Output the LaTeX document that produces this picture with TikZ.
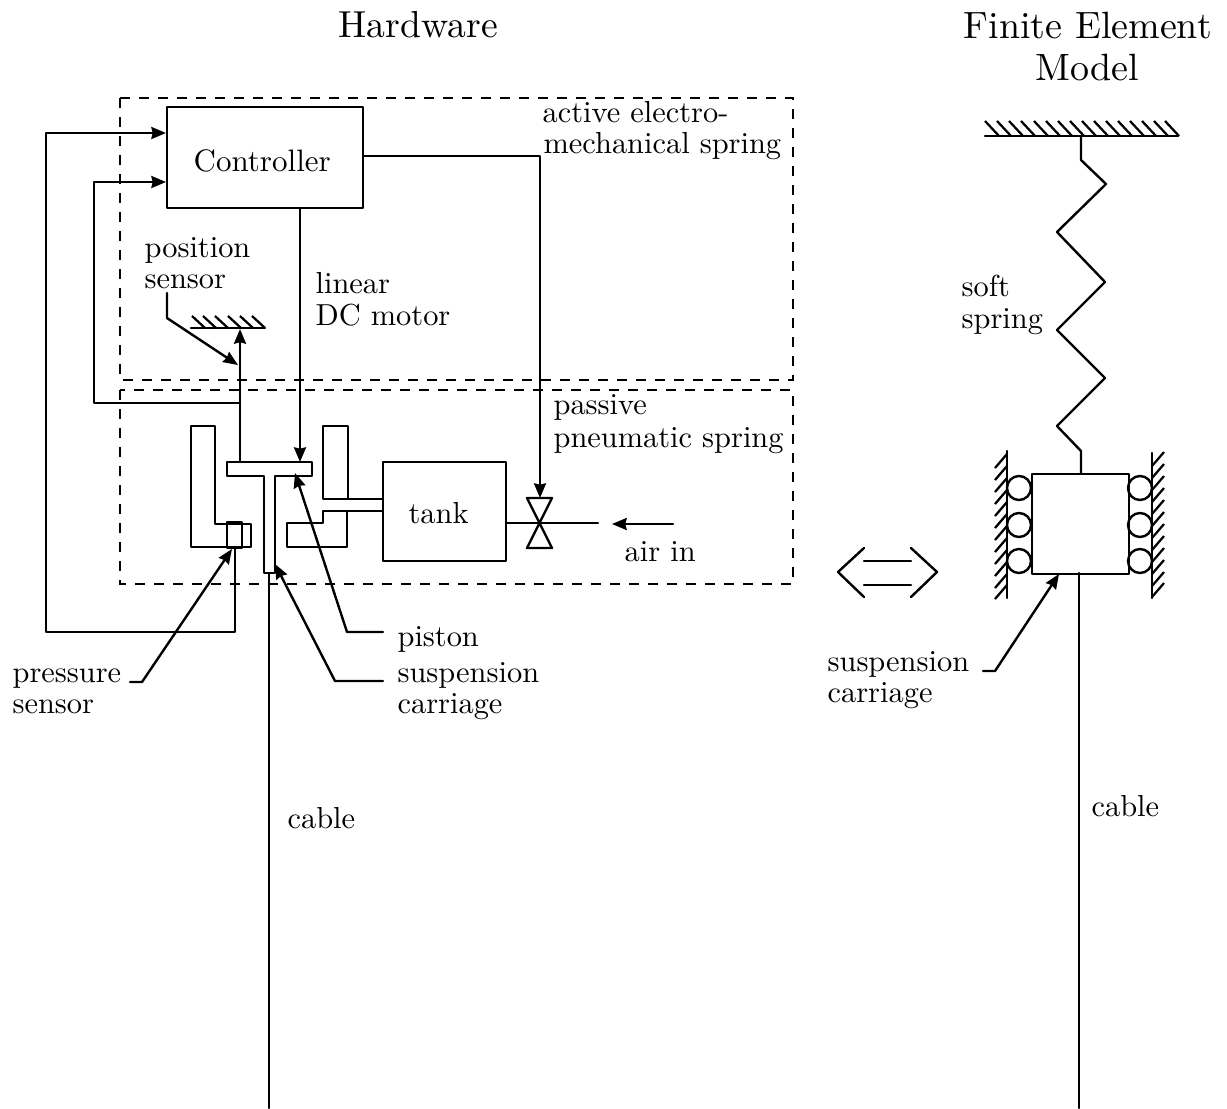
\documentclass[tikz,border=0pt]{standalone}
\usetikzlibrary{arrows.meta}
\tikzset{
  px/.style={x=0.75pt,y=-0.75pt},
  ln/.style={line width=1.8pt,line join=round,line cap=round},
  sig/.style={ln,-{Stealth[length=11pt,width=9pt,inset=1pt]}},
  dashbox/.style={line width=1.6pt,dash pattern=on 7.5pt off 6.75pt},
  hatch/.style={line width=1.7pt},
  lbl/.style={anchor=base west,inner sep=0pt,scale=2.28},
  title/.style={anchor=base west,inner sep=0pt,scale=2.85},
  solidbox/.style={draw,ln,inner sep=0pt,anchor=north west},
  ball/.style={draw,ln,circle,inner sep=0pt,minimum size=18pt},
}
\begin{document}
\begin{tikzpicture}[px]
\useasboundingbox (0,0) rectangle (1227,1108);
% titles
\node[title,scale=0.99] (tHard) at (338,37) {Hardware};
\node[title] (tFin) at (963,38) {Finite Element};
\node[title] (tMod) at (1035,80) {Model};
% dashed regions
\draw[dashbox] (120,98) rectangle (793,380);
\draw[dashbox] (120,390) rectangle (793,584);
% boxes
\node[solidbox,minimum width=147pt,minimum height=75.75pt] (ctrl) at (166,106) {};
\node[lbl,scale=1.02] (ctrlT) at (193,171) {Controller};
\node[solidbox,minimum width=92.25pt,minimum height=74.25pt] (tank) at (382,461) {};
\node[lbl] (tankT) at (408,523) {tank};
% cylinder walls
\draw[ln] (215,426) -- (191,426) -- (191,547) -- (251,547) -- (251,524) -- (215,524) -- cycle;
\node[solidbox,minimum width=11.25pt,minimum height=19.5pt] (psens) at (226,521) {};
\draw[ln] (348,499) -- (348,426) -- (323,426) -- (323,499) -- (382,499);
\draw[ln] (382,511) -- (323,511) -- (323,523) -- (287,523) -- (287,547) -- (347,547) -- (347,511);
% piston
\draw[ln] (227,462) -- (312,462) -- (312,476) -- (275,476) -- (275,573) -- (264,573) -- (264,476) -- (227,476) -- cycle;
\coordinate (cableL) at (269,573);
\coordinate (cableLend) at (269,1108);
\draw[ln] (cableL) -- (cableLend);
% position-sensor ground
\coordinate (gndL) at (191,328);
\coordinate (gndR) at (265,328);
\draw[ln] (gndL) -- (gndR);
\foreach \x in {192,203,215,228,240,252} \draw[hatch] (\x,316) -- (\x+13,328);
% signals
\coordinate (pTip) at (300,462);
\draw[sig] (pTip |- ctrl.south) -- (pTip);
\coordinate (vTop) at (540,498);
\coordinate (c1) at (540,156);
\draw[sig] (ctrl.east |- c1) -- (c1) -- (vTop);
\coordinate (in1) at (166,133);
\coordinate (in2) at (166,182);
\coordinate (pb) at (233.5,632);
\draw[sig] (psens.south) -- (psens.south |- pb) -- (46,632) -- (46,133) -- (ctrl.west |- in1);
\coordinate (posB) at (240,462);
\coordinate (posT) at (240,329);
\draw[sig] (posB) -- (posT);
\coordinate (posJ) at (240,403);
\draw[sig] (posJ) -- (94,403) -- (94,182) -- (ctrl.west |- in2);
% valve
\draw[ln] (527,498) -- (552,498) -- (527,548) -- (552,548) -- cycle;
\coordinate (vOut) at (598,523);
\draw[ln] (tank.east |- vOut) -- (vOut);
\coordinate (airA) at (673,524);
\coordinate (airB) at (612,524);
\draw[sig] (airA) -- (airB);
% labels, hardware
\node[lbl] (l1) at (542,122) {active electro-};
\node[lbl] (l2) at (543,153) {mechanical spring};
\node[lbl] (l3) at (144,257) {position};
\node[lbl] (l4) at (144,288) {sensor};
\node[lbl] (l5) at (315,293) {linear};
\node[lbl] (l6) at (315,325) {DC motor};
\node[lbl] (l7) at (553,414) {passive};
\node[lbl] (l8) at (553,447) {pneumatic spring};
\node[lbl] (l9) at (624,561) {air in};
\node[lbl] (l10) at (12,682) {pressure};
\node[lbl] (l11) at (12,713) {sensor};
\node[lbl] (l12) at (397,646) {piston};
\node[lbl] (l13) at (397,682) {suspension};
\node[lbl] (l14) at (397,713) {carriage};
\node[lbl] (l15) at (287,828) {cable};
% leaders
\coordinate (lp1) at (167,293);
\coordinate (lp2) at (238,365);
\draw[sig] (lp1) -- (167,318) -- (lp2);
\coordinate (lq1) at (130,682);
\coordinate (lq2) at (232,549);
\draw[sig] (lq1) -- (142,682) -- (lq2);
\coordinate (lr1) at (383,632);
\coordinate (lr2) at (295,473);
\draw[sig] (lr1) -- (347,632) -- (lr2);
\coordinate (ls1) at (383,681);
\coordinate (ls2) at (275,564);
\draw[sig] (ls1) -- (335,681) -- (ls2);
% equivalence symbol
\draw[ln] (864,548) -- (838,572) -- (864,597);
\draw[ln] (911,548) -- (937,572) -- (911,597);
\draw[ln] (864,561) -- (911,561);
\draw[ln] (864,585) -- (911,585);
% FE model
\coordinate (fgL) at (985,136);
\coordinate (fgR) at (1178,136);
\draw[ln] (fgL) -- (fgR);
\foreach \x in {985,997,1009,1021,1034,1046,1058,1070,1082,1094,1106,1118,1130,1142,1154,1165} \draw[hatch] (\x,121) -- (\x+14,136);
\node[solidbox,minimum width=72.75pt,minimum height=75pt] (carr) at (1031,473) {};
\coordinate (sTop) at (1081,136);
\draw[ln] (sTop) -- (1081,160) -- (1106,184) -- (1057,232) -- (1105,282) -- (1057,330) -- (1105,378) -- (1057,426) -- (1081,451) -- (1081,473);
\node[ball] (bl1) at (1019,488) {};
\node[ball] (bl2) at (1019,525) {};
\node[ball] (bl3) at (1019,561) {};
\node[ball] (br1) at (1140,488) {};
\node[ball] (br2) at (1140,525) {};
\node[ball] (br3) at (1140,561) {};
\draw[ln] (1007,451) -- (1007,598);
\draw[ln] (1152,453) -- (1152,598);
\foreach \y in {468,480,492,504,516,528,540,552,564,576,588,599} \draw[hatch] (995,\y) -- (1007,\y-14);
\foreach \y in {466,478,490,502,514,526,538,550,562,574,586,597} \draw[hatch] (1152,\y) -- (1164,\y-14);
\coordinate (cableR) at (1079,573);
\coordinate (cableRend) at (1079,1108);
\draw[ln] (cableR) -- (cableRend);
\coordinate (lt1) at (983,671);
\coordinate (lt2) at (1059,574);
\draw[sig] (lt1) -- (995,671) -- (lt2);
\node[lbl] (m1) at (961,296) {soft};
\node[lbl] (m2) at (961,328) {spring};
\node[lbl] (m3) at (827,671) {suspension};
\node[lbl] (m4) at (827,702) {carriage};
\node[lbl] (m5) at (1091,816) {cable};
\end{tikzpicture}
\end{document}
